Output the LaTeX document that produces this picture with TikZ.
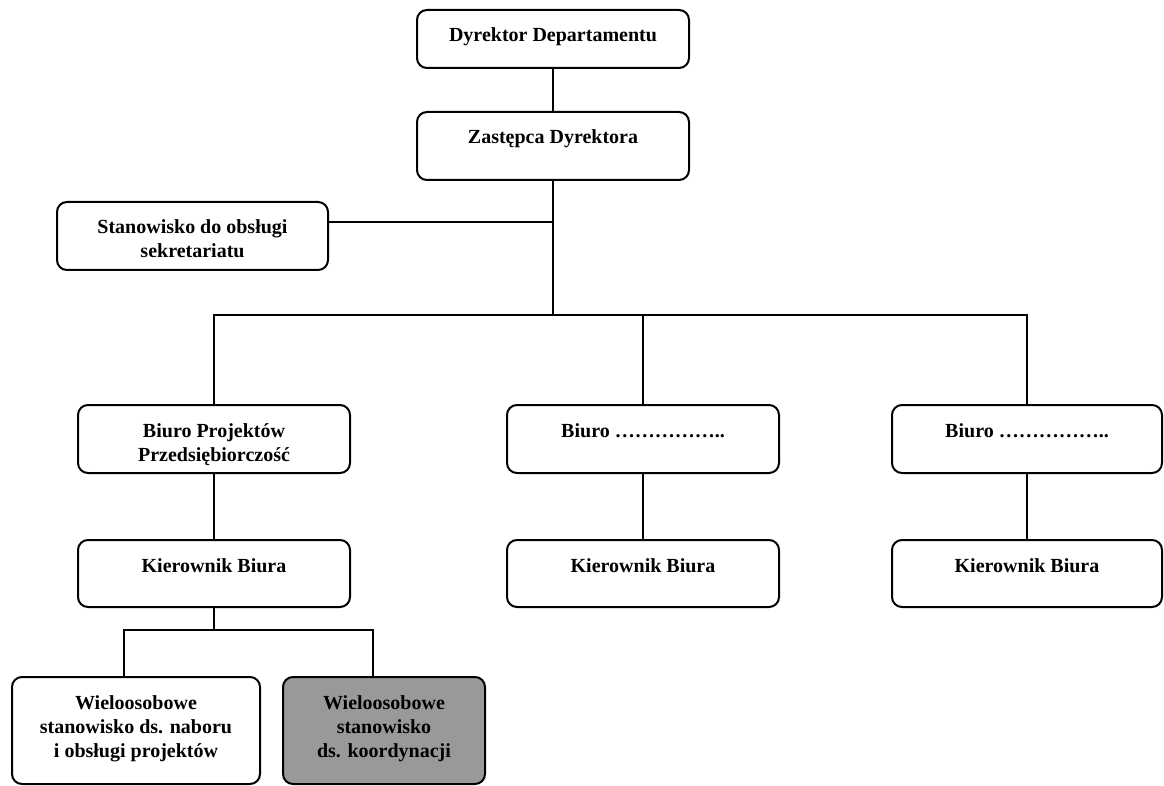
\documentclass[tikz,border=0pt]{standalone}
\usepackage{fontspec}
\setmainfont{Liberation Serif}
\begin{document}
\begin{tikzpicture}[x=1pt,y=-1pt,
  line width=2pt,
  orgbox/.style={draw, line width=2pt, rounded corners=10pt, inner sep=0pt, outer sep=0pt,
    fill=white, font=\bfseries\fontsize{20}{24}\selectfont},
  shaded/.style={fill=black!40},
  wire/.style={line width=2pt}]
\useasboundingbox (0,0) rectangle (1164,786);
% box: name, left, top, width, height, text
\newcommand\orgnode[6][]{%
  \node[orgbox,#1,anchor=north west] (#2) at (#3) {\parbox[c][#5pt][t]{#4pt}{\centering\rule{0pt}{32pt}#6}};}

\orgnode{dyr}{417,10}{272}{58}{Dyrektor Departamentu}
\orgnode{zast}{417,112}{272}{68}{Zastępca Dyrektora}
\orgnode{sekr}{57,202}{271}{68}{Stanowisko do obsługi\\sekretariatu}
\orgnode{bpp}{78,405}{272}{68}{Biuro Projektów\\Przedsiębiorczość}
\orgnode{b2}{507,405}{272}{68}{Biuro ……………..}
\orgnode{b3}{892,405}{270}{68}{Biuro ……………..}
\orgnode{k1}{78,540}{272}{67}{Kierownik Biura}
\orgnode{k2}{507,540}{272}{67}{Kierownik Biura}
\orgnode{k3}{892,540}{270}{67}{Kierownik Biura}
\orgnode{w1}{12,677}{248}{107}{\rule{0pt}{8pt}Wieloosobowe\\stanowisko ds. naboru\\i obsługi projektów}
\orgnode[shaded]{w2}{283,677}{202}{107}{\rule{0pt}{8pt}Wieloosobowe\\stanowisko\\ds. koordynacji}

% junction points of the tree
\coordinate (hub) at (zast.south |- 0,315);
\coordinate (kj) at (k1.south |- 0,630);
\coordinate (sekrx) at ([yshift=14pt]sekr.east);

\draw[wire] (dyr.south) -- (zast.north);
\draw[wire] (zast.south) -- (hub);
\draw[wire] (sekrx) -- (sekrx -| zast.south);
\draw[wire] (bpp.north) |- (hub) -| (b3.north);
\draw[wire] (hub) -| (b2.north);
\draw[wire] (bpp.south) -- (k1.north);
\draw[wire] (b2.south) -- (k2.north);
\draw[wire] (b3.south) -- (k3.north);
\draw[wire] (k1.south) -- (kj);
\draw[wire] (w1.north -| 124,0) |- (kj) -| (w2.north -| 373,0);
\end{tikzpicture}
\end{document}
